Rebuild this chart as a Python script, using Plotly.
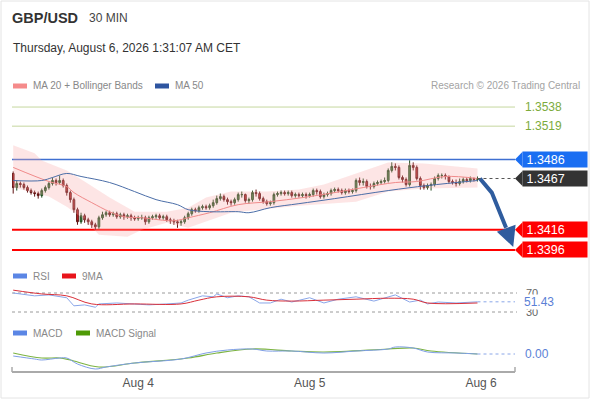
import pandas as pd
import plotly.graph_objects as go

# 30 min candles, GBP/USD
times = pd.date_range("2026-08-03 06:30", periods=131, freq="30min")

opens = [1.3472, 1.3458, 1.3462, 1.3461, 1.3458, 1.3455, 1.3453, 1.3452, 1.3450, 1.3455,
         1.3458, 1.3462, 1.3465, 1.3463, 1.3465, 1.3460, 1.3453, 1.3446, 1.3436, 1.3424,
         1.3430, 1.3426, 1.3424, 1.3421, 1.3419, 1.3428, 1.3431, 1.3433, 1.3431, 1.3432,
         1.3429, 1.3431, 1.3429, 1.3430, 1.3428, 1.3427, 1.3428, 1.3428, 1.3424, 1.3428,
         1.3429, 1.3430, 1.3428, 1.3429, 1.3426, 1.3425, 1.3424, 1.3423, 1.3424, 1.3428,
         1.3432, 1.3436, 1.3435, 1.3438, 1.3439, 1.3438, 1.3440, 1.3443, 1.3447, 1.3449,
         1.3446, 1.3444, 1.3443, 1.3446, 1.3451, 1.3451, 1.3445, 1.3446, 1.3453, 1.3452,
         1.3447, 1.3444, 1.3442, 1.3443, 1.3451, 1.3452, 1.3453, 1.3452, 1.3453, 1.3450,
         1.3451, 1.3450, 1.3451, 1.3450, 1.3451, 1.3455, 1.3454, 1.3449, 1.3451, 1.3452,
         1.3455, 1.3456, 1.3455, 1.3453, 1.3455, 1.3454, 1.3455, 1.3465, 1.3463, 1.3464,
         1.3459, 1.3459, 1.3462, 1.3463, 1.3464, 1.3465, 1.3475, 1.3479, 1.3478, 1.3468,
         1.3466, 1.3461, 1.3480, 1.3478, 1.3467, 1.3460, 1.3458, 1.3460, 1.3461, 1.3467,
         1.3470, 1.3470, 1.3469, 1.3464, 1.3463, 1.3462, 1.3464, 1.3466, 1.3465, 1.3467,
         1.3466]
closes = [1.3458, 1.3462, 1.3461, 1.3458, 1.3455, 1.3453, 1.3452, 1.3450, 1.3455, 1.3458,
          1.3462, 1.3465, 1.3463, 1.3465, 1.3460, 1.3453, 1.3446, 1.3436, 1.3424, 1.3430,
          1.3426, 1.3424, 1.3421, 1.3419, 1.3428, 1.3431, 1.3433, 1.3431, 1.3432, 1.3429,
          1.3431, 1.3429, 1.3430, 1.3428, 1.3427, 1.3428, 1.3428, 1.3424, 1.3428, 1.3429,
          1.3430, 1.3428, 1.3429, 1.3426, 1.3425, 1.3424, 1.3423, 1.3424, 1.3428, 1.3432,
          1.3436, 1.3435, 1.3438, 1.3439, 1.3438, 1.3440, 1.3443, 1.3447, 1.3449, 1.3446,
          1.3444, 1.3443, 1.3446, 1.3451, 1.3451, 1.3445, 1.3446, 1.3453, 1.3452, 1.3447,
          1.3444, 1.3442, 1.3443, 1.3451, 1.3452, 1.3453, 1.3452, 1.3453, 1.3450, 1.3451,
          1.3450, 1.3451, 1.3450, 1.3451, 1.3455, 1.3454, 1.3449, 1.3451, 1.3452, 1.3455,
          1.3456, 1.3455, 1.3453, 1.3455, 1.3454, 1.3455, 1.3465, 1.3463, 1.3464, 1.3459,
          1.3459, 1.3462, 1.3463, 1.3464, 1.3465, 1.3475, 1.3479, 1.3478, 1.3468, 1.3466,
          1.3461, 1.3480, 1.3478, 1.3467, 1.3460, 1.3458, 1.3460, 1.3461, 1.3467, 1.3470,
          1.3470, 1.3469, 1.3464, 1.3463, 1.3462, 1.3464, 1.3466, 1.3465, 1.3467, 1.3466,
          1.3467]
highs = [1.3474, 1.3465, 1.3464, 1.3463, 1.3460, 1.3457, 1.3455, 1.3454, 1.3457, 1.3460,
         1.3464, 1.3468, 1.3467, 1.3470, 1.3467, 1.3462, 1.3455, 1.3448, 1.3438, 1.3433,
         1.3432, 1.3428, 1.3426, 1.3423, 1.3430, 1.3434, 1.3435, 1.3435, 1.3434, 1.3434,
         1.3433, 1.3433, 1.3432, 1.3432, 1.3430, 1.3430, 1.3431, 1.3430, 1.3430, 1.3431,
         1.3432, 1.3432, 1.3431, 1.3431, 1.3428, 1.3427, 1.3426, 1.3426, 1.3430, 1.3434,
         1.3438, 1.3438, 1.3440, 1.3441, 1.3441, 1.3442, 1.3446, 1.3450, 1.3452, 1.3451,
         1.3448, 1.3446, 1.3448, 1.3453, 1.3454, 1.3452, 1.3448, 1.3455, 1.3456, 1.3454,
         1.3449, 1.3446, 1.3445, 1.3453, 1.3454, 1.3455, 1.3455, 1.3455, 1.3455, 1.3453,
         1.3453, 1.3453, 1.3453, 1.3453, 1.3457, 1.3457, 1.3456, 1.3453, 1.3454, 1.3457,
         1.3458, 1.3458, 1.3457, 1.3457, 1.3457, 1.3457, 1.3467, 1.3468, 1.3467, 1.3466,
         1.3462, 1.3464, 1.3465, 1.3466, 1.3468, 1.3477, 1.3483, 1.3482, 1.3480, 1.3470,
         1.3468, 1.3485, 1.3483, 1.3480, 1.3469, 1.3462, 1.3462, 1.3463, 1.3469, 1.3472,
         1.3472, 1.3472, 1.3470, 1.3466, 1.3466, 1.3467, 1.3468, 1.3468, 1.3469, 1.3468,
         1.3469]
lows = [1.3452, 1.3455, 1.3458, 1.3456, 1.3453, 1.3451, 1.3449, 1.3447, 1.3448, 1.3453,
        1.3456, 1.3460, 1.3460, 1.3461, 1.3458, 1.3450, 1.3443, 1.3433, 1.3421, 1.3422,
        1.3423, 1.3421, 1.3418, 1.3416, 1.3417, 1.3426, 1.3429, 1.3429, 1.3429, 1.3427,
        1.3427, 1.3426, 1.3427, 1.3425, 1.3425, 1.3425, 1.3426, 1.3421, 1.3422, 1.3426,
        1.3427, 1.3426, 1.3426, 1.3424, 1.3422, 1.3421, 1.3418, 1.3420, 1.3422, 1.3426,
        1.3430, 1.3433, 1.3433, 1.3436, 1.3436, 1.3436, 1.3438, 1.3441, 1.3445, 1.3444,
        1.3441, 1.3440, 1.3441, 1.3444, 1.3448, 1.3443, 1.3442, 1.3444, 1.3449, 1.3445,
        1.3442, 1.3440, 1.3440, 1.3441, 1.3449, 1.3450, 1.3450, 1.3450, 1.3448, 1.3448,
        1.3448, 1.3448, 1.3447, 1.3448, 1.3449, 1.3451, 1.3447, 1.3447, 1.3449, 1.3450,
        1.3453, 1.3453, 1.3451, 1.3451, 1.3452, 1.3452, 1.3453, 1.3460, 1.3460, 1.3457,
        1.3456, 1.3457, 1.3460, 1.3461, 1.3462, 1.3463, 1.3473, 1.3475, 1.3466, 1.3463,
        1.3459, 1.3459, 1.3475, 1.3465, 1.3456, 1.3456, 1.3456, 1.3455, 1.3459, 1.3465,
        1.3467, 1.3466, 1.3462, 1.3461, 1.3459, 1.3460, 1.3462, 1.3463, 1.3463, 1.3464,
        1.3464]

# Indicators, read at candle indices
bb_up_idx = [0, 6, 8, 15, 20, 27, 34, 43, 49, 54, 61, 71, 80, 87, 96, 105, 115, 122, 130]
bb_up = [1.3500, 1.3492, 1.3485, 1.3475, 1.3464, 1.3448, 1.3434, 1.3434, 1.3438, 1.3448,
         1.3454, 1.3454, 1.3456, 1.3461, 1.3472, 1.3483, 1.3482, 1.3480, 1.3477]
bb_lo_idx = [0, 10, 15, 20, 24, 32, 36, 43, 49, 57, 61, 80, 96, 105, 115, 130]
bb_lo = [1.3458, 1.3449, 1.3439, 1.3426, 1.3411, 1.3409, 1.3416, 1.3423, 1.3418, 1.3428,
         1.3433, 1.3440, 1.3444, 1.3454, 1.3457, 1.3458]
ma20_idx = [0, 10, 15, 17, 22, 27, 31, 36, 45, 49, 55, 63, 72, 81, 90, 98, 107, 113, 121, 130]
ma20 = [1.3478, 1.3464, 1.3459, 1.3453, 1.3443, 1.3434, 1.3429, 1.3428, 1.3425, 1.3428,
        1.3433, 1.3441, 1.3444, 1.3448, 1.3453, 1.3458, 1.3463, 1.3464, 1.3469, 1.3467]
ma50_idx = [0, 8, 11, 15, 19, 27, 34, 40, 46, 49, 55, 63, 66, 72, 80, 90, 105, 116, 130]
ma50 = [1.3465, 1.3465, 1.3468, 1.3472, 1.3469, 1.3463, 1.3454, 1.3446, 1.3441, 1.3436,
        1.3434, 1.3434, 1.3433, 1.3438, 1.3442, 1.3447, 1.3455, 1.3460, 1.3465]

rsi_idx = [0, 6, 10, 15, 17, 20, 23, 24, 29, 34, 38, 43, 47, 49, 53, 56, 57, 60, 63, 66,
           69, 72, 75, 78, 83, 87, 91, 96, 101, 107, 111, 114, 116, 119, 124, 130]
rsi = [70, 64, 66, 60, 43, 45, 40, 47, 49, 47, 45, 47, 49, 55, 64, 62, 68, 60, 64, 62,
       49, 49, 57, 51, 60, 49, 57, 62, 53, 66, 51, 55, 47, 51, 49, 51.43]
rsi_ma_idx = [0, 8, 15, 22, 34, 47, 52, 57, 66, 71, 78, 87, 96, 105, 112, 116, 130]
rsi_ma = [76, 68, 64, 47, 47, 47, 55, 62, 62, 55, 53, 55, 57, 59, 57, 49, 49]

# MACD in 1e-5 units
macd_idx = [0, 6, 8, 13, 15, 18, 23, 26, 34, 47, 54, 60, 67, 71, 78, 87, 96, 105, 107, 112, 116, 124, 130]
macd = [-2, -5, -6, -4, -4, -10, -15, -13, -9, -5, 1, 4, 5, 3, 3, 1, 3, 5, 7, 6, 2, 1, 0]
signal_idx = [0, 8, 13, 16, 24, 34, 49, 57, 67, 78, 87, 105, 112, 117, 130]
signal = [1, -4, -4, -6, -13, -9, -4, 1, 5, 3, 2, 5, 6, 3, 0]

resistances = [1.3538, 1.3519]
pivot = 1.3486
last_price = 1.3467
supports = [1.3416, 1.3396]
rsi_levels = [70, 30]
rsi_last = 51.43
macd_last = 0.00

# forecast arrow path
arrow_t = ["2026-08-05 23:50", "2026-08-06 01:30", "2026-08-06 03:30"]
arrow_p = [1.3467, 1.3453, 1.3418]
arrow_tip = ("2026-08-06 04:30", 1.3399)

x_range = ["2026-08-03 06:20", "2026-08-06 04:45"]
day_ticks = ["2026-08-04", "2026-08-05", "2026-08-06"]
day_labels = ["Aug 4", "Aug 5", "Aug 6"]

FONT = "Liberation Sans, Arial, sans-serif"
W, H = 590, 400


def px(x):
    return x / W


def py(y):
    return 1 - y / H


def at(idx):
    return [times[i] for i in idx]


fig = go.Figure()

# Bollinger band area
fig.add_trace(go.Scatter(x=at(bb_up_idx) + at(bb_lo_idx)[::-1], y=bb_up + bb_lo[::-1],
                         fill="toself", fillcolor="rgba(248,170,170,0.30)", line=dict(width=0),
                         mode="lines", hoverinfo="skip", xaxis="x", yaxis="y"))
fig.add_trace(go.Scatter(x=at(ma20_idx), y=ma20, mode="lines", line=dict(color="#f08a8a", width=1, shape="spline"),
                         xaxis="x", yaxis="y"))
fig.add_trace(go.Scatter(x=at(ma50_idx), y=ma50, mode="lines", line=dict(color="#4b6ea8", width=1, shape="spline"),
                         xaxis="x", yaxis="y"))
fig.add_trace(go.Candlestick(x=times, open=opens, high=highs, low=lows, close=closes,
                             increasing=dict(line=dict(color="#1d4a1d", width=1), fillcolor="#3c7d3c"),
                             decreasing=dict(line=dict(color="#5e1212", width=1), fillcolor="#c62828"),
                             xaxis="x", yaxis="y"))
fig.add_trace(go.Scatter(x=arrow_t, y=arrow_p, mode="lines", line=dict(color="#2f5c9e", width=4),
                         xaxis="x", yaxis="y"))

# RSI
fig.add_trace(go.Scatter(x=at(rsi_idx), y=rsi, mode="lines", line=dict(color="#8aa6e8", width=1),
                         xaxis="x2", yaxis="y2"))
fig.add_trace(go.Scatter(x=at(rsi_ma_idx), y=rsi_ma, mode="lines", line=dict(color="#d9303a", width=1, shape="spline"),
                         xaxis="x2", yaxis="y2"))

# MACD
fig.add_trace(go.Scatter(x=at(signal_idx), y=signal, mode="lines", line=dict(color="#7cb342", width=1.2, shape="spline"),
                         xaxis="x3", yaxis="y3"))
fig.add_trace(go.Scatter(x=at(macd_idx), y=macd, mode="lines", line=dict(color="#7f9fe6", width=1, shape="spline"),
                         xaxis="x3", yaxis="y3"))

shapes = []
annots = []


def hline(level, yref, color, width, dash="solid", x0=12, x1=515):
    shapes.append(dict(type="line", xref="paper", yref=yref, x0=px(x0), x1=px(x1), y0=level, y1=level,
                       line=dict(color=color, width=width, dash=dash), layer="below"))


for lv in resistances:
    hline(lv, "y", "#c5d79e", 1)
    annots.append(dict(xref="paper", yref="y", x=px(523), y=lv, xanchor="left", yanchor="middle",
                       text=f"{lv:.4f}", showarrow=False, font=dict(color="#7cab3c", size=12, family=FONT)))
hline(pivot, "y", "#3f6fd1", 1.5)
for lv in supports:
    hline(lv, "y", "#ff0000", 2)

# dotted last price line
shapes.append(dict(type="line", xref="x", yref="y", x0=times[-1], x1=x_range[1], y0=last_price, y1=last_price,
                   line=dict(color="#555555", width=1, dash="dot")))


def tag(level, color):
    h = 0.00075
    shapes.append(dict(type="path", xref="paper", yref="y", fillcolor=color, line=dict(width=0),
                       path=f"M {px(515)},{level} L {px(522.5)},{level + h} L {px(522.5)},{level - h} Z"))
    annots.append(dict(xref="paper", yref="y", x=px(522), y=level, xanchor="left", yanchor="middle",
                       text=f" {level:.4f}", showarrow=False, bgcolor=color, width=64, height=15,
                       align="left", borderpad=0, font=dict(color="white", size=12.5, family=FONT)))


tag(pivot, "#1a6ef2")
tag(last_price, "#333333")
for lv in supports:
    tag(lv, "#ff0000")

# forecast arrowhead
annots.append(dict(xref="x", yref="y", axref="x", ayref="y", x=arrow_tip[0], y=arrow_tip[1],
                   ax=arrow_t[-1], ay=arrow_p[-1], text="", showarrow=True, arrowhead=2,
                   arrowsize=1, arrowwidth=4, arrowcolor="#2f5c9e"))

# RSI levels
for lv in rsi_levels:
    hline(lv, "y2", "#9a9a9a", 1, "dot", 12, 517)
    annots.append(dict(xref="paper", yref="y2", x=px(524), y=lv, xanchor="left", yanchor="middle",
                       text=str(lv), showarrow=False, font=dict(color="#666666", size=11, family=FONT)))
shapes.append(dict(type="line", xref="x2", yref="y2", x0=times[-1], x1=x_range[1], y0=rsi_last, y1=rsi_last,
                   line=dict(color="#8aa6e8", width=1, dash="dot")))
annots.append(dict(xref="paper", yref="y2", x=px(523), y=rsi_last, xanchor="left", yanchor="middle",
                   text=f"{rsi_last:.2f}", showarrow=False, bgcolor="white", borderpad=0,
                   font=dict(color="#5b7fd6", size=12, family=FONT)))

# MACD zero
shapes.append(dict(type="line", xref="x3", yref="y3", x0=times[-1], x1=x_range[1], y0=macd_last, y1=macd_last,
                   line=dict(color="#8aa6e8", width=1, dash="dot")))
annots.append(dict(xref="paper", yref="y3", x=px(523), y=macd_last, xanchor="left", yanchor="middle",
                   text=f"{macd_last:.2f}", showarrow=False, font=dict(color="#5b7fd6", size=12, family=FONT)))

# x axis end ticks
for xe in (12, 515):
    shapes.append(dict(type="line", xref="paper", yref="paper", x0=px(xe), x1=px(xe), y0=py(372), y1=py(367),
                       line=dict(color="#aaaaaa", width=1.5)))

# frame
shapes.append(dict(type="rect", xref="paper", yref="paper", x0=px(1), x1=px(589), y0=py(398), y1=py(1),
                   line=dict(color="#e4e4e4", width=1)))


def text(x, y, s, size=11, color="#888888", anchor="left", bold=False):
    annots.append(dict(xref="paper", yref="paper", x=px(x), y=py(y), xanchor=anchor, yanchor="middle",
                       text=f"<b>{s}</b>" if bold else s, showarrow=False,
                       font=dict(size=size, color=color, family=FONT)))


def swatch(x, y, color):
    shapes.append(dict(type="rect", xref="paper", yref="paper", x0=px(x), x1=px(x + 14), y0=py(y + 2.5),
                       y1=py(y - 2.5), fillcolor=color, line=dict(width=0)))


text(10, 18, "GBP/USD", 14.5, "#333333", bold=True)
text(87, 18, "30 MIN", 12, "#444444")
text(11, 48, "Thursday, August 6, 2026 1:31:07 AM CET", 12, "#333333")

swatch(13, 86, "#f58b8b")
text(31, 86, "MA 20 + Bollinger Bands", 10)
swatch(155, 86, "#2e55a0")
text(173, 86, "MA 50", 10)
text(582, 86, "Research © 2026 Trading Central", 10, "#a3a3a3", anchor="right")

swatch(13, 276, "#5b86e5")
text(31, 276, "RSI", 10)
swatch(62, 276, "#e8141b")
text(80, 276, "9MA", 10)

swatch(13, 333, "#5b86e5")
text(31, 333, "MACD", 10)
swatch(76, 333, "#4e9a06")
text(94, 333, "MACD Signal", 10)

hidden_x = dict(range=x_range, domain=[px(12), px(515)], showgrid=False, showticklabels=False,
                zeroline=False, showline=False, ticks="")

fig.update_layout(
    width=W, height=H, margin=dict(l=0, r=0, t=0, b=0),
    paper_bgcolor="white", plot_bgcolor="white", showlegend=False,
    font=dict(family=FONT),
    xaxis=dict(hidden_x, rangeslider=dict(visible=False), anchor="y"),
    xaxis2=dict(hidden_x, matches="x", anchor="y2"),
    xaxis3=dict(range=x_range, domain=[px(12), px(515)], matches="x", anchor="y3", showgrid=False,
                zeroline=False, showline=True, linecolor="#aaaaaa", linewidth=2, ticks="",
                tickvals=day_ticks, ticktext=day_labels, tickfont=dict(size=12, color="#555555")),
    yaxis=dict(domain=[py(258), py(100)], range=[1.3388, 1.3545], visible=False),
    yaxis2=dict(domain=[py(316.75), py(288.25)], range=[20, 80], visible=False),
    yaxis3=dict(domain=[py(371), py(342)], range=[-17, 12], visible=False),
    shapes=shapes, annotations=annots,
)

# page body margin would push the chart 8px off the window
fig.write_html("out.html", config={"displayModeBar": False},
               post_script="document.body.style.margin='0px';")
